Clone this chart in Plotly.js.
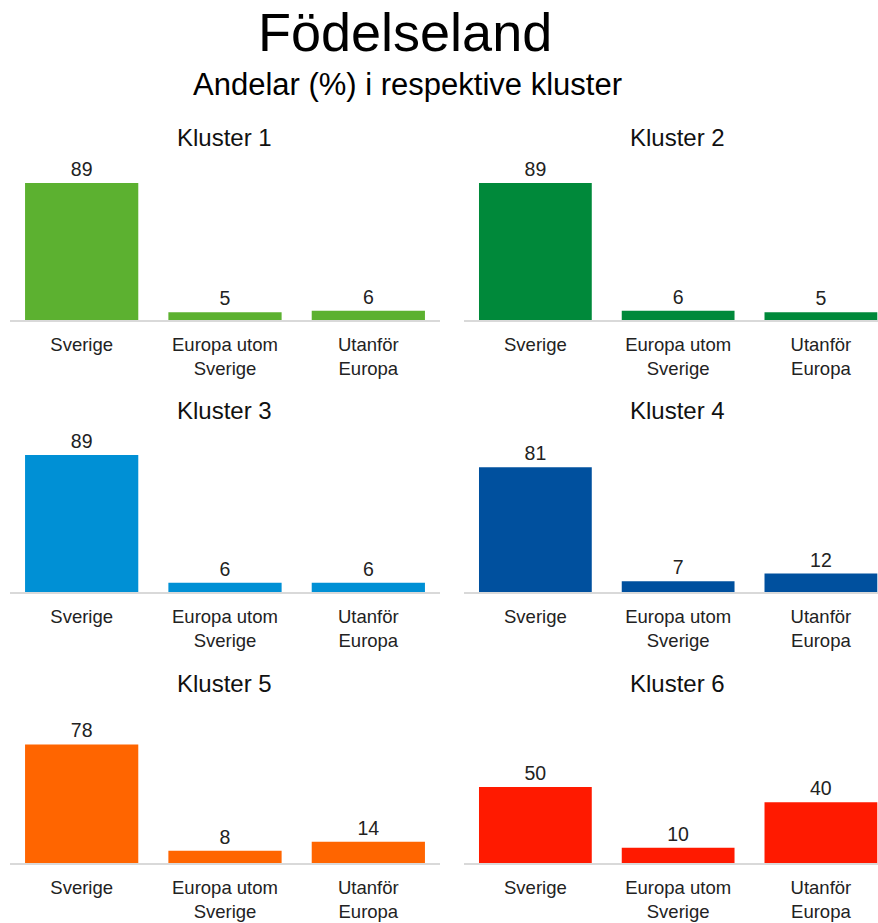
<!DOCTYPE html>
<html><head><meta charset="utf-8">
<script src="https://cdn.plot.ly/plotly-3.0.1.min.js"></script>
<style>html,body{margin:0;padding:0;background:#fff}#chart{width:878px;height:923px}</style>
</head><body><div id="chart"></div>
<script>
const categories = ["Sverige", "Europa utom<br>Sverige", "Utanför<br>Europa"];
const clusterNames = ["Kluster 1", "Kluster 2", "Kluster 3", "Kluster 4", "Kluster 5", "Kluster 6"];
const kluster1 = [89, 5, 6];
const kluster2 = [89, 6, 5];
const kluster3 = [89, 6, 6];
const kluster4 = [81, 7, 12];
const kluster5 = [78, 8, 14];
const kluster6 = [50, 10, 40];
const colors = ["#5cb130", "#00893a", "#0090d5", "#00509e", "#ff6500", "#ff1a00"];

const series = [kluster1, kluster2, kluster3, kluster4, kluster5, kluster6];
const W = 878, H = 923;
const colDom = [[10 / W, 440 / W], [464 / W, 1]];
const rowPx = [[166, 320], [438, 592], [711, 863]];
const font = "Liberation Sans, Arial, sans-serif";

const traces = [];
const layout = {
  width: W, height: H,
  margin: {l: 0, r: 0, t: 0, b: 0},
  paper_bgcolor: "#fff", plot_bgcolor: "#fff",
  showlegend: false,
  bargap: 0.21,
  font: {family: font, color: "#222", size: 18},
  annotations: [
    {text: "Födelseland", x: 405 / W, y: 1 - 32 / H, xref: "paper", yref: "paper", showarrow: false,
     xanchor: "center", yanchor: "middle", font: {family: font, size: 54, color: "#000"}},
    {text: "Andelar (%) i respektive kluster", x: 407 / W, y: 1 - 84 / H, xref: "paper", yref: "paper", showarrow: false,
     xanchor: "center", yanchor: "middle", font: {family: font, size: 31, color: "#000"}}
  ]
};

series.forEach((vals, i) => {
  const row = Math.floor(i / 2), col = i % 2;
  const n = i + 1;
  const xa = n === 1 ? "x" : "x" + n, ya = n === 1 ? "y" : "y" + n;
  traces.push({
    type: "bar", x: categories, y: vals, xaxis: xa, yaxis: ya,
    marker: {color: colors[i]},
    text: vals.map(String), textposition: "outside", cliponaxis: false,
    textfont: {family: font, size: 19.5, color: "#222"},
    hoverinfo: "skip"
  });
  const yd = [1 - rowPx[row][1] / H, 1 - rowPx[row][0] / H];
  layout["xaxis" + (n === 1 ? "" : n)] = {
    domain: colDom[col], anchor: ya, type: "category",
    range: col === 0 ? [-0.5, 2.5] : [-0.5, 2.4],
    showline: true, linecolor: "#d9d9d9", linewidth: 1.5,
    showgrid: false, zeroline: false, ticks: "", ticklabelstandoff: 7,
    tickfont: {family: font, size: 18.5, color: "#222"}, fixedrange: true
  };
  layout["yaxis" + (n === 1 ? "" : n)] = {
    domain: yd, anchor: xa, range: [0, 100], visible: false, fixedrange: true
  };
  const cx = col === 0 ? 224 : 677;
  layout.annotations.push({
    text: clusterNames[i], x: cx / W, y: 1 - [138, 410, 683][row] / H,
    xref: "paper", yref: "paper", showarrow: false, xanchor: "center", yanchor: "middle",
    font: {family: font, size: 24, color: "#111"}
  });
});

Plotly.newPlot("chart", traces, layout, {displayModeBar: false, staticPlot: true});
</script></body></html>
